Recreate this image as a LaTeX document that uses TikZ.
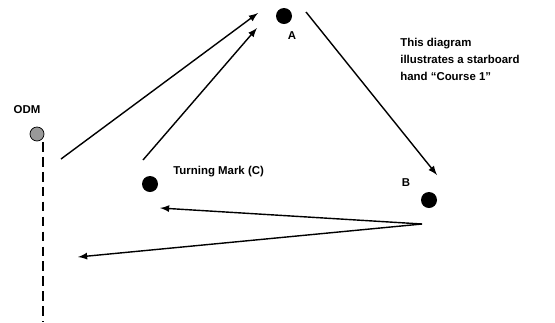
\documentclass[tikz,border=0pt]{standalone}
\usepackage{fontspec}
\setmainfont{Liberation Sans}

\begin{document}
\begin{tikzpicture}[x=0.02cm, y=-0.02cm, >=latex,
        buoy/.style={circle, fill=black, inner sep=0pt, minimum size=16*0.02cm},
        lbl/.style={font=\fontsize{6.5}{9.5}\selectfont\bfseries, inner sep=0pt}]
        \useasboundingbox (0,0) rectangle (555,322);
        % ==== MARKS ====
        \node[buoy] (A) at (284,16) {};
        \node[buoy] (B) at (429,200) {};
        \node[buoy] (C) at (150,184) {};
        \node[circle, draw=black, fill=gray!80, inner sep=0pt, minimum size=14*0.02cm] (ODM) at (37,134) {};
        \node[lbl] (labA) at (292,36) {A};
        \node[lbl] (labB) at (406,183) {B};
        \node[lbl, anchor=west] (labC) at (173,172) {Turning Mark (C)};
        \node[lbl] (labODM) at (27,110) {ODM};
        \node[lbl, anchor=north west, align=left] (note) at (400,38)
            {This diagram\\illustrates a starboard\\hand “Course 1”};
        % ==== START LINE ====
        \coordinate (lineTop) at (43,142);
        \coordinate (lineEnd) at (43,322);
        \draw[thick, dash pattern=on 5.5pt off 3pt] (lineTop) -- (lineEnd);
        % ==== COURSE ====
        \coordinate (s1) at (61,159);  \coordinate (e1) at (258,13);
        \coordinate (s2) at (143,160); \coordinate (e2) at (257,28);
        \coordinate (s3) at (306,12);  \coordinate (e3) at (437,175);
        \coordinate (s4) at (422,224); \coordinate (e4) at (160,208);
        \coordinate (e5) at (78,257);
        \draw[->, thick] (s1) -- (e1);
        \draw[->, thick] (s2) -- (e2);
        \draw[->, thick] (s3) -- (e3);
        \draw[->, thick] (s4) -- (e4);
        \draw[->, thick] (s4) -- (e5);
\end{tikzpicture}
\end{document}
